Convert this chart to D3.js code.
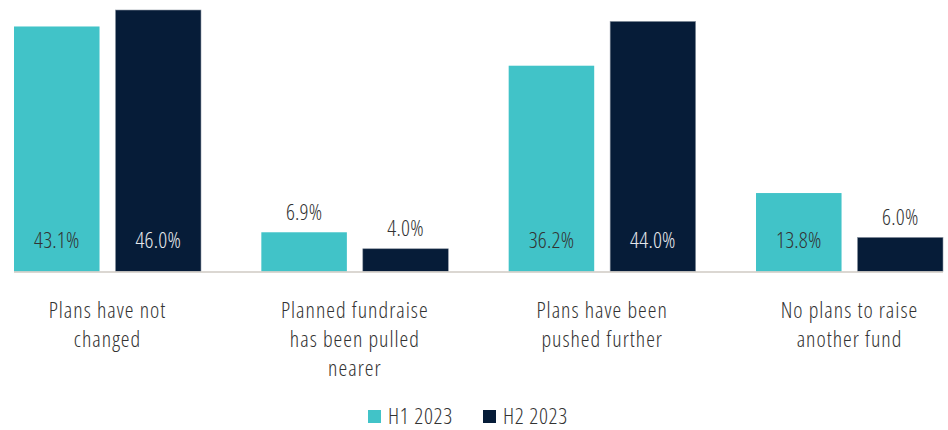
<!DOCTYPE html>
<html>
<head>
<meta charset="utf-8">
<script src="https://cdn.jsdelivr.net/npm/d3@7"></script>
<style>
  html, body { margin: 0; padding: 0; background: #ffffff; }
  svg { display: block; }
  text { font-family: "Open Sans", "Noto Sans", sans-serif; font-stretch: 75%; font-weight: 300; fill: #333333; }
</style>
</head>
<body>
<svg id="chart" width="948" height="430"></svg>
<script>
// Fundraising plan changes, share of respondents (%)
const categories = [
  "Plans have not changed",
  "Planned fundraise has been pulled nearer",
  "Plans have been pushed further",
  "No plans to raise another fund"
];
const seriesNames = ["H1 2023", "H2 2023"];
const h1Values = [43.1, 6.9, 36.2, 13.8];
const h2Values = [46.0, 4.0, 44.0, 6.0];
const seriesColors = ["#41c3c8", "#061c38"];

const rows = categories.map((c, i) => ({ category: c, values: [h1Values[i], h2Values[i]] }));

const svg = d3.select("#chart");
const plot = { left: 14, right: 943, top: 10, bottom: 271.5 };

const x0 = d3.scaleBand()
  .domain(categories)
  .range([plot.left, plot.right])
  .paddingInner(0.244)
  .paddingOuter(0);

const x1 = d3.scaleBand()
  .domain(seriesNames)
  .range([0, x0.bandwidth()])
  .paddingInner(0.157)
  .paddingOuter(0);

const y = d3.scaleLinear()
  .domain([0, 46.0])
  .range([plot.bottom, plot.top]);

const fmt = v => v.toFixed(1) + "%";

// Bars
const groups = svg.append("g").selectAll("g")
  .data(rows)
  .join("g")
  .attr("transform", d => `translate(${x0(d.category)},0)`);

groups.selectAll("rect")
  .data(d => d.values.map((v, k) => ({ series: seriesNames[k], value: v, k })))
  .join("rect")
  .attr("x", d => x1(d.series))
  .attr("y", d => y(d.value))
  .attr("width", x1.bandwidth())
  .attr("height", d => y(0) - y(d.value))
  .attr("fill", d => seriesColors[d.k])
  .attr("stroke", d => d.k === 1 ? "#8e97a3" : "none")
  .attr("stroke-width", 0.6);

// Value labels: inside the base of tall bars, above short ones
groups.selectAll("text.value")
  .data(d => d.values.map((v, k) => ({ series: seriesNames[k], value: v, k })))
  .join("text")
  .attr("class", "value")
  .attr("x", d => x1(d.series) + x1.bandwidth() / 2)
  .attr("y", d => d.value > 10 ? y(0) - 23.5 : y(d.value) - 12.5)
  .attr("text-anchor", "middle")
  .style("font-size", "22px")
  .style("letter-spacing", "0.2px")
  .style("fill", d => (d.value > 10 && d.k === 1) ? "#e6e8ec" : "#333333")
  .text(d => fmt(d.value));

// Baseline
svg.append("line")
  .attr("x1", plot.left).attr("x2", plot.right)
  .attr("y1", plot.bottom + 0.5).attr("y2", plot.bottom + 0.5)
  .attr("stroke", "#cfcac3")
  .attr("stroke-width", 1.5);

// Category axis labels, wrapped to a fixed width
const labelWidth = 160;
const catLabels = svg.append("g").selectAll("text")
  .data(categories)
  .join("text")
  .attr("x", d => x0(d) + x0.bandwidth() / 2)
  .attr("y", 318)
  .attr("text-anchor", "middle")
  .style("font-size", "22px")
  .style("letter-spacing", "1px");

catLabels.each(function(d) {
  const t = d3.select(this);
  const words = d.split(" ");
  let line = [];
  let tspan = t.append("tspan").attr("x", t.attr("x")).attr("dy", 0);
  words.forEach(w => {
    line.push(w);
    tspan.text(line.join(" "));
    if (tspan.node().getComputedTextLength() > labelWidth && line.length > 1) {
      line.pop();
      tspan.text(line.join(" "));
      line = [w];
      tspan = t.append("tspan").attr("x", t.attr("x")).attr("dy", 29).text(w);
    }
  });
});

// Legend
const legend = svg.append("g").attr("transform", "translate(368,410)");
const legendItems = legend.selectAll("g")
  .data(seriesNames)
  .join("g")
  .attr("transform", (d, i) => `translate(${i * 115},0)`);
legendItems.append("rect")
  .attr("width", 13).attr("height", 13)
  .attr("fill", (d, i) => seriesColors[i]);
legendItems.append("text")
  .attr("x", 20).attr("y", 14)
  .style("font-size", "22px")
  .style("letter-spacing", "0.7px")
  .text(d => d);
</script>
</body>
</html>
